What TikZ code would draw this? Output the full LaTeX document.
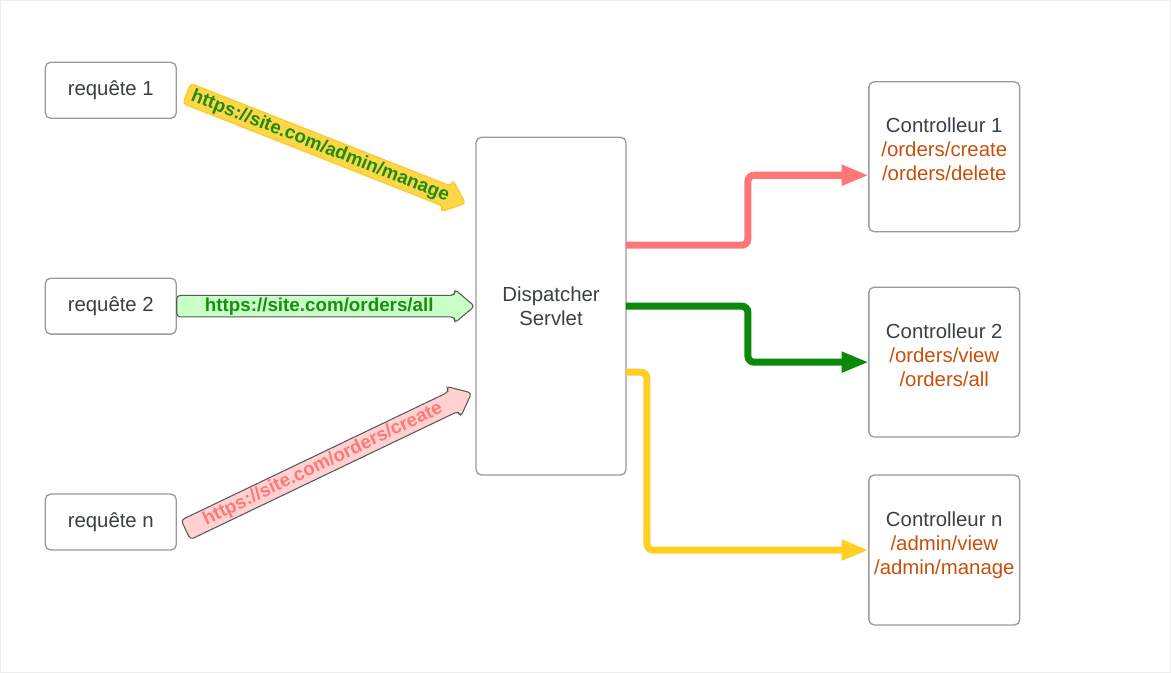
\documentclass[tikz,border=0pt]{standalone}
\usepackage{fontspec}
\setmainfont{Liberation Sans}
\usepackage{tikz}
\usetikzlibrary{arrows.meta,calc,shapes.arrows}
\definecolor{txtgray}{HTML}{3B3F46}
\definecolor{boxgray}{HTML}{9A9A9A}
\definecolor{pathorange}{HTML}{C8500A}
\definecolor{flowred}{HTML}{FF7676}
\definecolor{flowgreen}{HTML}{0A8A0A}
\definecolor{flowyellow}{HTML}{FFCF26}
\definecolor{urlgreen}{HTML}{1C8C12}
\definecolor{urlpink}{HTML}{FF7878}
\newcommand{\lowstrut}{\rule[-8.2pt]{0pt}{0pt}}
\tikzstyle{box} = [rectangle, draw=boxgray, line width=0.75pt, rounded corners=3pt,
    fill=white, text=txtgray, align=center, inner sep=0pt, outer sep=0pt,
    font=\fontsize{11.6}{13.7}\selectfont]
\tikzstyle{reqbox} = [box, minimum width=2.62cm, minimum height=1.12cm]
\tikzstyle{ctrlbox} = [box, minimum width=3.02cm, minimum height=3.0cm]
\tikzstyle{url} = [single arrow, anchor=tail, rounded corners=2pt, line width=0.6pt,
    single arrow head extend=0.12cm, single arrow tip angle=80,
    text height=7.8pt, text depth=2.1pt, inner ysep=0.9pt, inner xsep=2pt,
    font=\fontsize{10.7}{12}\selectfont\bfseries]
\tikzstyle{flow} = [line width=4pt, rounded corners=3.5pt,
    -{Triangle[length=15.5pt,width=11pt]}]

\begin{document}
\begin{tikzpicture}[x=0.02cm,y=-0.02cm]
    % frame
    \draw[black!7, fill=white] (0,0) rectangle (1171,672);
    % Place nodes
    \node[reqbox] (req1) at (110.5,90) {requête 1};
    \node[reqbox] (req2) at (110.5,306) {requête 2};
    \node[reqbox] (reqn) at (110.5,522) {requête n};
    \node[box, minimum width=3.0cm, minimum height=6.76cm] (disp) at (551,306) {Dispatcher\\Servlet};
    \node[ctrlbox] (c1) at (944.5,156.5) {Controlleur 1\\\textcolor{pathorange}{/orders/create}\\\textcolor{pathorange}{/orders/delete}\lowstrut};
    \node[ctrlbox] (c2) at (944.5,362) {Controlleur 2\\\textcolor{pathorange}{/orders/view}\\\textcolor{pathorange}{/orders/all}\lowstrut};
    \node[ctrlbox] (cn) at (944.5,550) {Controlleur n\\\textcolor{pathorange}{/admin/view}\\\textcolor{pathorange}{/admin/manage}\lowstrut};
    % ends of the request arrows
    \coordinate (t1) at ($(req1.east)+(10,3)$);
    \coordinate (h1) at ($(disp.west)+(-11,-103)$);
    \coordinate (t2) at (req2.east);
    \coordinate (h2) at ($(disp.west)+(-2,0)$);
    \coordinate (tn) at ($(reqn.east)+(9,8)$);
    \coordinate (hn) at ($(disp.west)+(-5,87)$);
    % Draw requests
    \path let \p1=($(h1)-(t1)$), \n1={atan2(\y1,\x1)}, \n2={veclen(\x1,\y1)} in
        node[url, draw=flowyellow!90!orange, fill=flowyellow!85!white, text=urlgreen,
            minimum height=\n2, rotate=\n1] at (t1) {https://site.com/admin/manage};
    \path let \p1=($(h2)-(t2)$), \n2={veclen(\x1,\y1)} in
        node[url, draw=black!65, fill=green!22, text=urlgreen,
            minimum height=\n2] at (t2) {https://site.com/orders/all};
    \path let \p1=($(hn)-(tn)$), \n1={atan2(\y1,\x1)}, \n2={veclen(\x1,\y1)} in
        node[url, draw=black!65, fill=red!18, text=urlpink,
            minimum height=\n2, rotate=\n1] at (tn) {https://site.com/orders/create};
    % Draw edges
    \draw[flow, flowred] ($(disp.east)+(0,-61)$) -- ++(122,0) |- ($(c1.west)+(0,18.5)$);
    \draw[flow, flowgreen] (disp.east) -- ++(122,0) |- (c2.west);
    \draw[flow, flowyellow] ($(disp.east)+(0,66)$) -- ++(21,0) |- (cn.west);
\end{tikzpicture}
\end{document}
